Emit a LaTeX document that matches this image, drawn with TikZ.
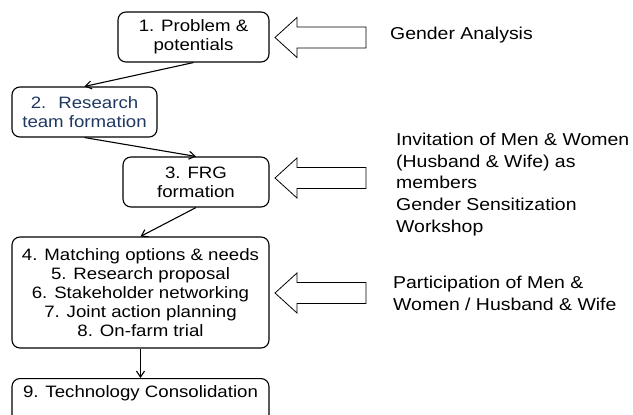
\documentclass[tikz,border=0pt]{standalone}
\usepackage{fontspec}
\setmainfont{Liberation Sans}[FakeStretch=1.13]
\usetikzlibrary{arrows.meta}
\definecolor{navytext}{RGB}{31,56,96}

\begin{document}
\begin{tikzpicture}[x=1pt, y=-1pt,
    stepbox/.style={draw, line width=1.1pt, rounded corners=8pt, align=center,
      inner sep=0pt, font=\fontsize{16.5}{19.2}\selectfont},
    gendertext/.style={anchor=base west, align=left, inner sep=0pt,
      font=\fontsize{17.2}{21.6}\selectfont},
    flow/.style={line width=1.1pt, -{Straight Barb[length=6pt, width=8pt]}},
    gaparrow/.style={draw, line width=0.8pt, fill=white}]
   \useasboundingbox (0,0) rectangle (633,415);
   \clip (0,0) rectangle (633,415);
   % steps
   \node[stepbox, minimum width=151, minimum height=50] (prob) at (193.5,37) {1. Problem \&\\potentials};
   \node[stepbox, minimum width=145, minimum height=50, text=navytext] (team) at (84.5,112) {2.~ Research\\team formation};
   \node[stepbox, minimum width=146, minimum height=50] (frg) at (196,182) {3. FRG\\formation};
   \node[stepbox, minimum width=257, minimum height=111] (match) at (140.5,292.5) {4. Matching options \& needs\\5. Research proposal\\6. Stakeholder networking\\7. Joint action planning\\8. On-farm trial};
   \node[stepbox, anchor=north, minimum width=257, inner ysep=7pt, text depth=40pt] (cons) at (140.5,378) {9. Technology Consolidation};
   \draw[flow] (prob.south) to (team.north);
   \draw[flow] (team.south) to (frg.north);
   \draw[flow] (frg.south) to (match.north);
   \draw[flow] (match.south) to (cons.north);
   % gender inputs
   \foreach \y in {37.5,178,293}
     \draw[gaparrow] (275,\y) -- ++(22,-20) -- ++(0,9.5) -- ++(69,0) -- ++(0,21)
       -- ++(-69,0) -- ++(0,9.5) -- cycle;
   \node[gendertext] (analysis) at (390,39) {Gender Analysis};
   \node[gendertext] (invite) at (396,232) {Invitation of Men \& Women\\(Husband \& Wife) as\\members\\Gender Sensitization\\Workshop};
   \node[gendertext, font=\fontsize{17.2}{22}\selectfont] (particip) at (393,310) {Participation of Men \&\\Women / Husband \& Wife};
\end{tikzpicture}
\end{document}
